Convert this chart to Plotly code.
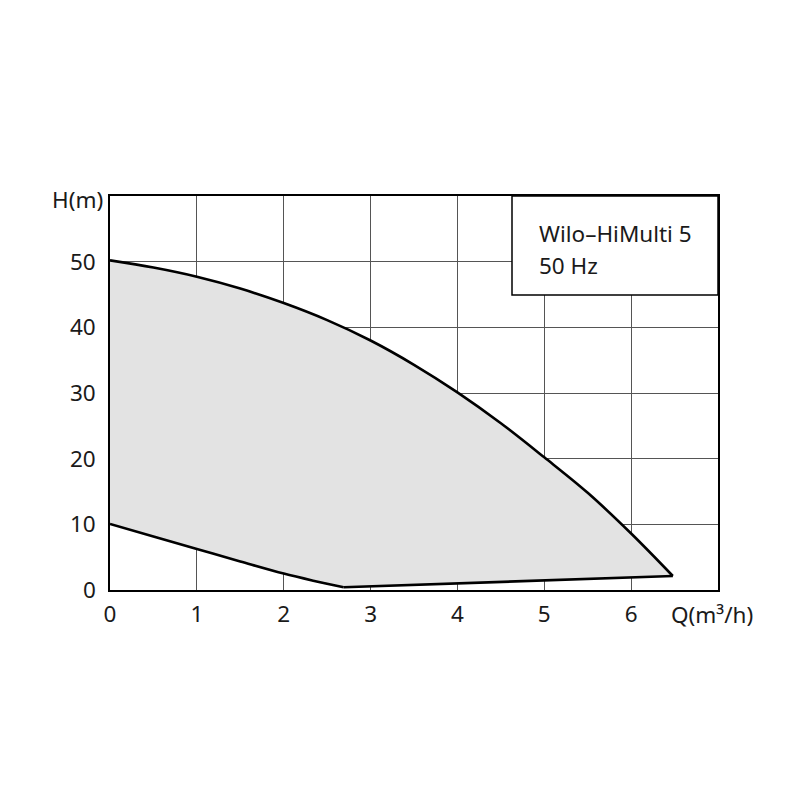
import plotly.graph_objects as go

# Upper (max speed) curve
q_upper = [0.0, 0.5, 1.0, 1.5, 2.0, 2.5, 3.0, 3.5, 4.0, 4.5, 5.0, 5.5, 6.0, 6.48]
h_upper = [50.2, 49.1, 47.7, 45.9, 43.7, 41.1, 38.0, 34.3, 30.1, 25.4, 20.2, 14.8, 8.6, 2.13]
# Lower (min speed) curve, 0 .. minimum point
q_lower = [0.0, 0.5, 1.0, 1.5, 2.0, 2.34, 2.69]
h_lower = [10.05, 8.15, 6.24, 4.35, 2.5, 1.42, 0.41]
# Straight line from minimum point to end of max curve
q_base = [2.69, 6.48]
h_base = [0.41, 2.13]

x_ticks = [0, 1, 2, 3, 4, 5, 6]
y_ticks = [0, 10, 20, 30, 40, 50]
title_lines = ["Wilo–HiMulti 5", "50 Hz"]

FONT = "Noto Sans"
TXT = "#1a1a1a"
FS = 22.5

fig = go.Figure()
# filled region
fig.add_trace(go.Scatter(
    x=q_upper + q_base[::-1][1:] + q_lower[::-1],
    y=h_upper + h_base[::-1][1:] + h_lower[::-1],
    mode="lines", fill="toself", fillcolor="#e3e3e3",
    line=dict(color="rgba(0,0,0,0)", width=0), hoverinfo="skip", showlegend=False,
))
for qx, hy, shp in [(q_upper, h_upper, "spline"), (q_lower, h_lower, "spline"), (q_base, h_base, "linear")]:
    fig.add_trace(go.Scatter(x=qx, y=hy, mode="lines",
                             line=dict(color="black", width=2.6, shape=shp),
                             hoverinfo="skip", showlegend=False))

axis_common = dict(showline=True, linecolor="black", linewidth=1.5, mirror=True,
                   showgrid=True, gridcolor="#555555", gridwidth=1, zeroline=False,
                   ticks="", tickfont=dict(family=FONT, size=FS, color=TXT))
fig.update_xaxes(range=[0, 7], tickvals=x_ticks, ticklabelstandoff=3, **axis_common)
fig.update_yaxes(range=[0, 60], tickvals=y_ticks, ticklabelstandoff=8, **axis_common)

# title box
fig.add_shape(type="rect", xref="paper", yref="paper",
              x0=(512 - 110) / 608, x1=1, y0=(590 - 295) / 394, y1=1,
              fillcolor="white", line=dict(color="black", width=1.5), layer="above")
fig.add_annotation(xref="paper", yref="paper", x=(537 - 110) / 608, y=(590 - 233) / 394,
                   text=title_lines[0], showarrow=False, xanchor="left", yanchor="middle",
                   font=dict(family=FONT, size=FS, color=TXT))
fig.add_annotation(xref="paper", yref="paper", x=(537 - 110) / 608, y=(590 - 265) / 394,
                   text=title_lines[1], showarrow=False, xanchor="left", yanchor="middle",
                   font=dict(family=FONT, size=FS, color=TXT))
# axis titles
fig.add_annotation(xref="paper", yref="paper", x=(105 - 110) / 608, y=(590 - 199) / 394,
                   text="H(m)", showarrow=False, xanchor="right", yanchor="middle",
                   font=dict(family=FONT, size=FS, color=TXT))
fig.add_annotation(xref="paper", yref="paper", x=(669 - 110) / 608, y=(590 - 614) / 394,
                   text="Q(m³/h)", showarrow=False, xanchor="left", yanchor="middle",
                   font=dict(family=FONT, size=FS, color=TXT))

fig.update_layout(width=800, height=800, plot_bgcolor="white", paper_bgcolor="white",
                  margin=dict(l=102, r=90, t=188, b=218), showlegend=False)
fig.write_html("out.html")
